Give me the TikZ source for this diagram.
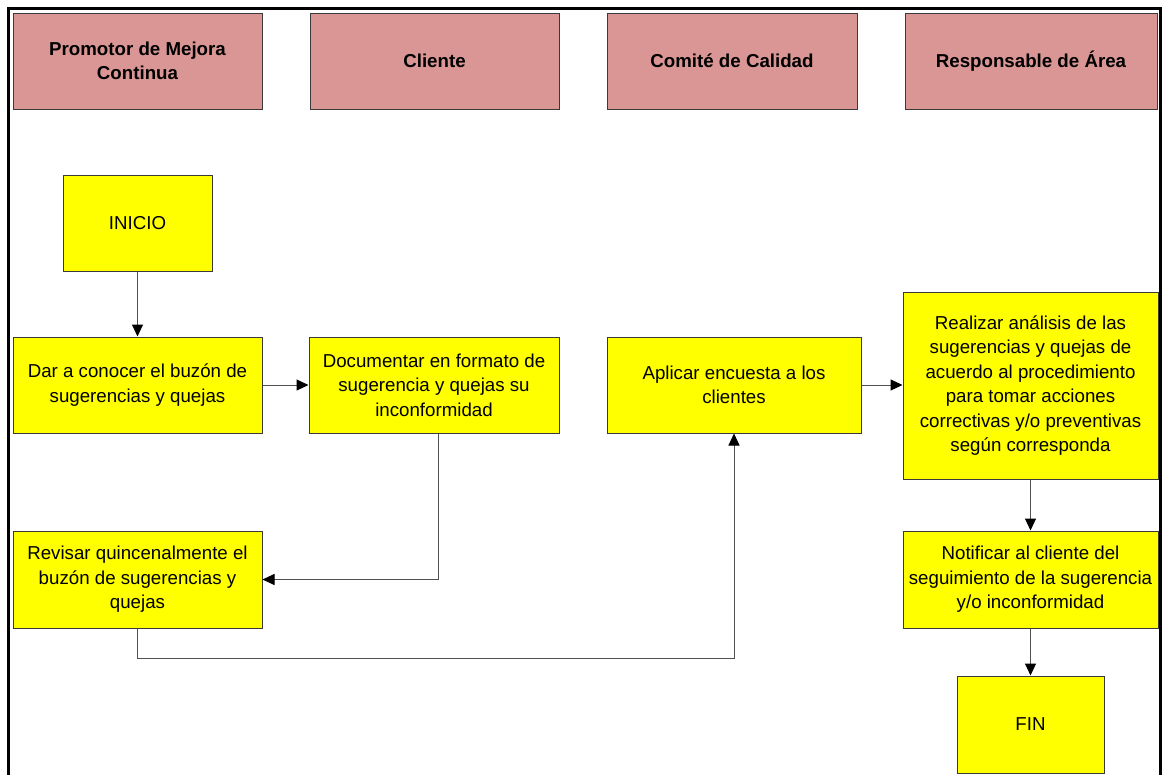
\documentclass[tikz,border=0pt]{standalone}
\usepackage{fontspec}
\setmainfont{Liberation Sans}
\usetikzlibrary{arrows.meta}
\definecolor{headfill}{HTML}{D99694}
\definecolor{stepfill}{HTML}{FFFF00}
\definecolor{edgegray}{HTML}{3A3A3A}
\definecolor{wiregray}{HTML}{505050}
\tikzset{
  lanehead/.style={draw=edgegray, line width=1pt, fill=headfill, inner sep=0pt,
    align=center, font=\fontsize{18.7}{23.5}\selectfont\bfseries},
  stepbox/.style={draw=edgegray, line width=1pt, fill=stepfill, inner sep=0pt,
    align=center, font=\fontsize{18.7}{24.5}\selectfont},
  flow/.style={draw=wiregray, line width=1pt,
    -{Triangle[length=12pt,width=11pt,color=black]}}
}
\begin{document}
\begin{tikzpicture}[x=1pt,y=-1pt]
  \useasboundingbox (0,0) rectangle (1164,774);
  \fill[white] (0,0) rectangle (1164,774);
  % outer frame (open at the bottom)
  \draw[line width=3pt] (8.5,780) -- (8.5,8.5) -- (1160,8.5) -- (1160,780);

  % lane headers
  \node[lanehead, minimum width=249pt, minimum height=96pt] (h1) at (137.5,61) {Promotor de Mejora\\Continua};
  \node[lanehead, minimum width=249pt, minimum height=96pt] (h2) at (434.5,61) {Cliente};
  \node[lanehead, minimum width=250pt, minimum height=96pt] (h3) at (732,61) {Comité de Calidad};
  \node[lanehead, minimum width=252pt, minimum height=96pt] (h4) at (1031,61) {Responsable de Área};

  % process steps
  \node[stepbox, minimum width=149pt, minimum height=96pt] (ini) at (137.5,223) {INICIO};
  \node[stepbox, minimum width=249pt, minimum height=96pt] (dar) at (137.5,385) {Dar a conocer el buzón de\\sugerencias y quejas};
  \node[stepbox, minimum width=250pt, minimum height=96pt] (doc) at (434,385) {Documentar en formato de\\sugerencia y quejas su\\inconformidad};
  \node[stepbox, minimum width=254pt, minimum height=96pt] (apl) at (734,385) {Aplicar encuesta a los\\clientes};
  \node[stepbox, minimum width=255pt, minimum height=187pt] (rea) at (1030.5,385.5) {Realizar análisis de las\\sugerencias y quejas de\\acuerdo al procedimiento\\para tomar acciones\\correctivas y/o preventivas\\según corresponda};
  \node[stepbox, minimum width=255pt, minimum height=97pt] (not) at (1030.5,579.5) {Notificar al cliente del\\seguimiento de la sugerencia\\y/o inconformidad};
  \node[stepbox, minimum width=147pt, minimum height=97pt] (fin) at (1030.5,724.5) {FIN};
  \node[stepbox, minimum width=249pt, minimum height=97pt] (rev) at (137.5,579.5) {Revisar quincenalmente el\\buzón de sugerencias y\\quejas};

  % connectors
  \draw[flow] (ini) -- (dar);
  \draw[flow] (dar) -- (doc);
  \draw[flow] ([xshift=4pt]doc.south) |- (rev.east);
  \coordinate (bend) at (0,658);
  \draw[flow] (rev.south) -- (rev.south |- bend) -| (apl.south);
  \draw[flow] (apl.east) -- (apl.east -| rea.west);
  \draw[flow] (rea) -- (not);
  \draw[flow] (not) -- (fin);
\end{tikzpicture}
\end{document}
